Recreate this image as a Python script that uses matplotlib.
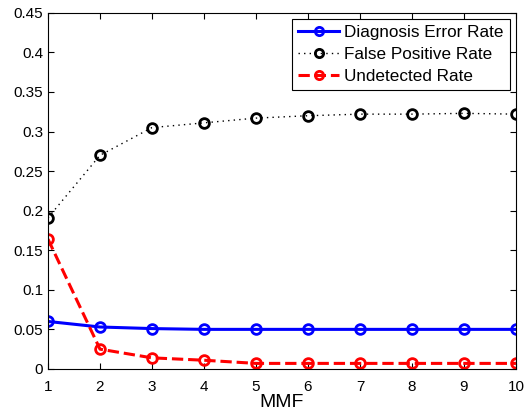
import matplotlib
matplotlib.use("Agg")
import matplotlib.pyplot as plt

plt.rcParams['font.family'] = ['Liberation Sans', 'DejaVu Sans']

mmf = [1, 2, 3, 4, 5, 6, 7, 8, 9, 10]
diag_err = [0.060, 0.053, 0.051, 0.050, 0.050, 0.050, 0.050, 0.050, 0.050, 0.050]
false_pos = [0.191, 0.270, 0.305, 0.311, 0.317, 0.320, 0.322, 0.322, 0.323, 0.322]
undetected = [0.164, 0.025, 0.014, 0.011, 0.007, 0.007, 0.007, 0.007, 0.007, 0.007]

fig = plt.figure(figsize=(5.24, 4.15), dpi=100)
ax = fig.add_axes([0.0916, 0.111, 0.893, 0.858])

ax.plot(mmf, diag_err, '-', color='blue', lw=2.2, marker='o', ms=7,
        mfc='none', mec='blue', mew=2, label='Diagnosis Error Rate')
ax.plot(mmf, false_pos, color='black', lw=1, ls=(0, (1, 3)), marker='o', ms=7,
        mfc='none', mec='black', mew=2, label='False Positive Rate')
ax.plot(mmf, undetected, '--', color='red', lw=2.2, marker='o', ms=7,
        mfc='none', mec='red', mew=2, label='Undetected Rate')

ax.set_xlim(1, 10)
ax.set_ylim(0, 0.45)
ax.set_xticks(mmf)
ax.set_yticks([0, 0.05, 0.1, 0.15, 0.2, 0.25, 0.3, 0.35, 0.4, 0.45])
ax.set_yticklabels(['0', '0.05', '0.1', '0.15', '0.2', '0.25', '0.3', '0.35', '0.4', '0.45'])
ax.tick_params(direction='in', top=True, right=True, labelsize=11, length=4)
ax.tick_params(axis='x', pad=8)
ax.set_xlabel('MMF', fontsize=14, labelpad=0)

leg = ax.legend(loc='upper right', fontsize=12.3, fancybox=False, framealpha=1,
                edgecolor='black', handlelength=2.4, borderaxespad=0.35,
                labelspacing=0.42, borderpad=0.35, handletextpad=0.3,
                markerscale=0.85)
leg.get_frame().set_linewidth(0.8)

fig.savefig('out.png', dpi=100)
